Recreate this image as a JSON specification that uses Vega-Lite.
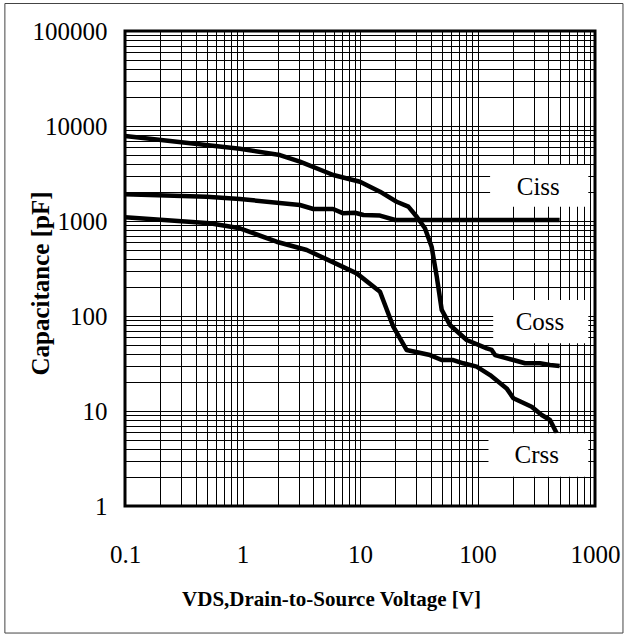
{
  "$schema": "https://vega.github.io/schema/vega-lite/v6.json",
  "width": 470,
  "height": 475,
  "autosize": {"type": "none"},
  "padding": {"left": 125, "top": 31, "right": 29, "bottom": 129},
  "background": "white",
  "config": {
    "view": {"stroke": "black", "strokeWidth": 3},
    "font": "Liberation Serif"
  },
  "datasets": {
    "curves": [
      {"series": "Coss", "V": 0.1, "C": 7850},
      {"series": "Coss", "V": 0.95, "C": 5750},
      {"series": "Coss", "V": 2.08, "C": 4950},
      {"series": "Coss", "V": 3.08, "C": 4210},
      {"series": "Coss", "V": 5.93, "C": 3050},
      {"series": "Coss", "V": 8.22, "C": 2750},
      {"series": "Coss", "V": 10, "C": 2590},
      {"series": "Coss", "V": 14.8, "C": 2035},
      {"series": "Coss", "V": 20.5, "C": 1596},
      {"series": "Coss", "V": 25.8, "C": 1415},
      {"series": "Coss", "V": 30.4, "C": 1110},
      {"series": "Coss", "V": 35.7, "C": 838},
      {"series": "Coss", "V": 40.7, "C": 536},
      {"series": "Coss", "V": 45.0, "C": 259},
      {"series": "Coss", "V": 49.6, "C": 116},
      {"series": "Coss", "V": 58.3, "C": 80.4},
      {"series": "Coss", "V": 80.9, "C": 55.9},
      {"series": "Coss", "V": 120, "C": 45.7},
      {"series": "Coss", "V": 132, "C": 43.9},
      {"series": "Coss", "V": 141, "C": 38.8},
      {"series": "Coss", "V": 202, "C": 34.4},
      {"series": "Coss", "V": 254, "C": 31.8},
      {"series": "Coss", "V": 340, "C": 31.8},
      {"series": "Coss", "V": 414, "C": 30.5},
      {"series": "Coss", "V": 500, "C": 29.8},
      {"series": "Ciss", "V": 0.1, "C": 1910},
      {"series": "Ciss", "V": 0.495, "C": 1803},
      {"series": "Ciss", "V": 0.95, "C": 1705},
      {"series": "Ciss", "V": 3.08, "C": 1473},
      {"series": "Ciss", "V": 4.01, "C": 1337},
      {"series": "Ciss", "V": 5.9, "C": 1337},
      {"series": "Ciss", "V": 7.21, "C": 1205},
      {"series": "Ciss", "V": 9.06, "C": 1222},
      {"series": "Ciss", "V": 10.7, "C": 1156},
      {"series": "Ciss", "V": 14.8, "C": 1140},
      {"series": "Ciss", "V": 19.9, "C": 1025},
      {"series": "Ciss", "V": 500, "C": 1025},
      {"series": "Crss", "V": 0.1, "C": 1094},
      {"series": "Crss", "V": 0.528, "C": 946},
      {"series": "Crss", "V": 0.95, "C": 837},
      {"series": "Crss", "V": 1.95, "C": 605},
      {"series": "Crss", "V": 3.52, "C": 495},
      {"series": "Crss", "V": 5.93, "C": 367},
      {"series": "Crss", "V": 9.38, "C": 281},
      {"series": "Crss", "V": 14.8, "C": 180},
      {"series": "Crss", "V": 19.2, "C": 77.1},
      {"series": "Crss", "V": 24.9, "C": 43.9},
      {"series": "Crss", "V": 39.4, "C": 38.8},
      {"series": "Crss", "V": 49.6, "C": 34.4},
      {"series": "Crss", "V": 62.2, "C": 34.4},
      {"series": "Crss", "V": 75.7, "C": 31.8},
      {"series": "Crss", "V": 98.4, "C": 29.3},
      {"series": "Crss", "V": 128, "C": 23.9},
      {"series": "Crss", "V": 177, "C": 17.3},
      {"series": "Crss", "V": 202, "C": 13.6},
      {"series": "Crss", "V": 289, "C": 11.1},
      {"series": "Crss", "V": 352, "C": 9.08},
      {"series": "Crss", "V": 414, "C": 8.04},
      {"series": "Crss", "V": 472, "C": 5.82}
    ],
    "labels": [
      {"label": "Ciss", "V": 329, "C": 2300, "V1": 128, "V2": 877, "C1": 1415, "C2": 3880},
      {"label": "Coss", "V": 340, "C": 87, "V1": 136, "V2": 877, "C1": 51.6, "C2": 147},
      {"label": "Crss", "V": 319, "C": 3.44, "V1": 124, "V2": 877, "C1": 2.03, "C2": 5.82}
    ]
  },
  "layer": [
    {
      "data": {"name": "curves"},
      "mark": {"type": "line", "color": "black", "strokeWidth": 4.5, "strokeJoin": "round"},
      "encoding": {
        "x": {
          "field": "V",
          "type": "quantitative",
          "scale": {"type": "log", "domain": [0.1, 1000], "nice": false},
          "axis": {
            "title": "VDS,Drain-to-Source Voltage [V]",
            "values": [0.1, 0.2, 0.3, 0.4, 0.5, 0.6, 0.7, 0.8, 0.9, 1, 2, 3, 4, 5, 6, 7, 8, 9, 10, 20, 30, 40, 50, 60, 70, 80, 90, 100, 200, 300, 400, 500, 600, 700, 800, 900, 1000],
            "grid": true,
            "gridColor": "black",
            "gridWidth": 1,
            "gridOpacity": 1,
            "ticks": false,
            "domain": false,
            "labelOverlap": false,
            "labelFlush": false,
            "labelBound": false,
            "labelExpr": "abs(log(datum.value)/LN10 - round(log(datum.value)/LN10)) < 0.001 ? format(datum.value, '~g') : ''",
            "labelFont": "Liberation Serif",
            "labelFontSize": 25,
            "labelColor": "black",
            "labelBaseline": "middle",
            "labelPadding": 48,
            "titleFont": "Liberation Serif",
            "titleFontWeight": "bold",
            "titleFontSize": 21,
            "titleColor": "black",
            "titleX": 206,
            "titleY": 99,
            "titleAlign": "center",
            "titleBaseline": "alphabetic"
          }
        },
        "y": {
          "field": "C",
          "type": "quantitative",
          "scale": {"type": "log", "domain": [1, 100000], "nice": false},
          "axis": {
            "title": "Capacitance [pF]",
            "values": [1, 2, 3, 4, 5, 6, 7, 8, 9, 10, 20, 30, 40, 50, 60, 70, 80, 90, 100, 200, 300, 400, 500, 600, 700, 800, 900, 1000, 2000, 3000, 4000, 5000, 6000, 7000, 8000, 9000, 10000, 20000, 30000, 40000, 50000, 60000, 70000, 80000, 90000, 100000],
            "grid": true,
            "gridColor": "black",
            "gridWidth": 1,
            "gridOpacity": 1,
            "ticks": false,
            "domain": false,
            "labelOverlap": false,
            "labelFlush": false,
            "labelBound": false,
            "labelExpr": "abs(log(datum.value)/LN10 - round(log(datum.value)/LN10)) < 0.001 ? format(datum.value, '~g') : ''",
            "labelFont": "Liberation Serif",
            "labelFontSize": 25,
            "labelColor": "black",
            "labelPadding": 18,
            "titleFont": "Liberation Serif",
            "titleFontWeight": "bold",
            "titleFontSize": 25,
            "titleColor": "black",
            "titleAngle": -90,
            "titleX": -85,
            "titleY": 252,
            "titleAlign": "center",
            "titleBaseline": "middle"
          }
        },
        "detail": {"field": "series"}
      }
    },
    {
      "data": {"name": "labels"},
      "mark": {"type": "rect", "color": "white", "opacity": 1},
      "encoding": {
        "x": {"field": "V1", "type": "quantitative"},
        "x2": {"field": "V2"},
        "y": {"field": "C1", "type": "quantitative"},
        "y2": {"field": "C2"}
      }
    },
    {
      "data": {"name": "labels"},
      "mark": {"type": "text", "font": "Liberation Serif", "fontSize": 25, "color": "black", "align": "center", "baseline": "middle"},
      "encoding": {
        "x": {"field": "V", "type": "quantitative"},
        "y": {"field": "C", "type": "quantitative"},
        "text": {"field": "label"}
      }
    },
    {
      "data": {"values": [{}]},
      "mark": {"type": "rect", "filled": false, "color": "#444", "strokeWidth": 1, "clip": false},
      "encoding": {
        "x": {"datum": 0.0095, "type": "quantitative"},
        "x2": {"datum": 1730},
        "y": {"datum": 194700, "type": "quantitative"},
        "y2": {"datum": 0.046}
      }
    }
  ]
}
